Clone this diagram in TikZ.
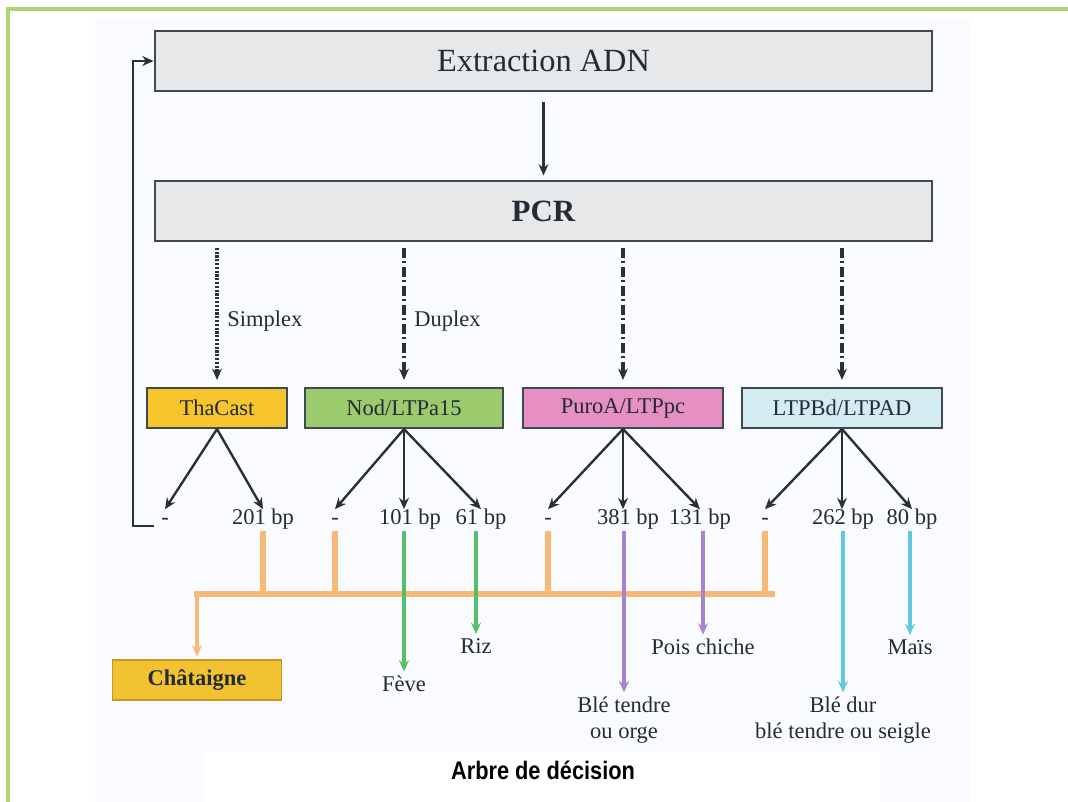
\documentclass[tikz,border=0pt]{standalone}
\usepackage{fontspec}
\setmainfont{Liberation Serif}
\newfontfamily\capfont[FakeStretch=0.86]{Liberation Sans}
\usetikzlibrary{arrows.meta}

\definecolor{framegreen}{HTML}{A9D46F}
\definecolor{bgtint}{HTML}{FAFBFE}
\definecolor{boxgray}{HTML}{E7E8EA}
\definecolor{edge}{HTML}{3F4953}
\definecolor{arr}{HTML}{27303B}
\definecolor{txt}{HTML}{222B36}
\definecolor{thafill}{HTML}{F6C42C}
\definecolor{nodfill}{HTML}{9CCB6E}
\definecolor{purofill}{HTML}{E58FC2}
\definecolor{ltpfill}{HTML}{D3ECF1}
\definecolor{chatfill}{HTML}{F2C230}
\definecolor{orangebus}{HTML}{F7B977}
\definecolor{grnarrow}{HTML}{55C06A}
\definecolor{purparrow}{HTML}{A682CF}
\definecolor{cyanarrow}{HTML}{63C7E0}

\begin{document}
\begin{tikzpicture}[x=0.025cm,y=-0.025cm,>={Stealth[length=8pt,width=7pt]},
  bigbox/.style={draw=edge,line width=1.8pt,fill=boxgray,minimum width=19.43cm,
    minimum height=1.5cm,text=txt,font=\fontsize{23}{26}\selectfont},
  primer/.style={draw=edge,line width=1.5pt,minimum height=1cm,inner sep=0pt,
    text=txt,font=\fontsize{16}{18}\selectfont},
  frag/.style={text=txt,inner sep=1pt,text height=10pt,text depth=3pt,
    font=\fontsize{16}{18}\selectfont},
  result/.style={text=txt,inner sep=1pt,align=center,font=\fontsize{16}{18.5}\selectfont},
  blk/.style={->,draw=arr,line width=1.7pt},
  simplexline/.style={->,draw=arr,line width=2.6pt,dash pattern=on 1.5pt off 1.2pt},
  multiline/.style={->,draw=arr,line width=2.6pt,dash pattern=on 7pt off 2.5pt on 1.5pt off 2.5pt},
  busline/.style={draw=orangebus,line width=3.8pt},
  colarrow/.style={->,line width=2.4pt,shorten >=2pt}]
\useasboundingbox (0,0) rectangle (1068,802);
\fill[bgtint] (95,18) rectangle (970,802);
\fill[white] (205,752) rectangle (880,802);
\draw[framegreen,line width=2.6pt] (1068,9) -- (8,9) -- (8,802);

% main steps
\node[bigbox] (extr) at (543.5,61) {Extraction ADN};
\node[bigbox,font=\bfseries\fontsize{22}{26}\selectfont] (pcr) at (543.5,211) {PCR};
\draw[blk,shorten <=7pt,shorten >=3pt] (extr.south) -- (pcr.north);

% primer sets
\node[primer,fill=thafill,minimum width=3.5cm] (tha) at (217,408) {ThaCast};
\node[primer,fill=nodfill,minimum width=4.95cm] (nod) at (404,408) {Nod/LTPa15};
\node[primer,fill=purofill,minimum width=5cm] (puro) at (623,408) {PuroA/LTPpc};
\node[primer,fill=ltpfill,minimum width=5cm] (ltp) at (842,408) {LTPBd/LTPAD};

\draw[simplexline,shorten <=4pt,shorten >=5pt] (pcr.south -| tha.north) -- (tha.north)
  node[pos=0.55,right=5pt,frag] {Simplex};
\draw[multiline,shorten <=4pt,shorten >=5pt] (pcr.south -| nod.north) -- (nod.north)
  node[pos=0.55,right=5pt,frag] {Duplex};
\draw[multiline,shorten <=4pt,shorten >=5pt] (pcr.south -| puro.north) -- (puro.north);
\draw[multiline,shorten <=4pt,shorten >=5pt] (pcr.south -| ltp.north) -- (ltp.north);

% fragments
\node[frag] (t0) at (165,520) {-};
\node[frag] (t1) at (263,520) {201 bp};
\node[frag] (n0) at (335,520) {-};
\node[frag] (n1) at (410,520) {101 bp};
\node[frag] (n2) at (481,520) {61 bp};
\node[frag] (p0) at (548,520) {-};
\node[frag] (p1) at (628,520) {381 bp};
\node[frag] (p2) at (700,520) {131 bp};
\node[frag] (l0) at (765,520) {-};
\node[frag] (l1) at (843,520) {262 bp};
\node[frag] (l2) at (912,520) {80 bp};

\draw[blk] (tha.south) -- (t0.north);
\draw[blk] (tha.south) -- (t1.north);
\draw[blk] (nod.south) -- (n0.north);
\draw[blk] (nod.south) -- (nod.south |- n1.north);
\draw[blk] (nod.south) -- (n2.north);
\draw[blk] (puro.south) -- (p0.north);
\draw[blk] (puro.south) -- (puro.south |- p1.north);
\draw[blk] (puro.south) -- (p2.north);
\draw[blk] (ltp.south) -- (l0.north);
\draw[blk] (ltp.south) -- (ltp.south |- l1.north);
\draw[blk] (ltp.south) -- (l2.north);

% no band: back to extraction
\coordinate (fb) at (133,526);
\draw[blk,shorten <=4pt] (t0.west |- fb) -- (fb) |- (extr.west);

% species
\node[primer,fill=chatfill,draw=chatfill!80!black,line width=0.8pt,minimum width=4.225cm,
  font=\bfseries\fontsize{16}{18}\selectfont] (chat) at (197,680) {Châtaigne};
\node[result] (feve) at (404,684) {Fève};
\node[result] (riz) at (476,646) {Riz};
\node[result] (ble1) at (624,720) {Blé tendre\\ou orge};
\node[result] (pois) at (703,647) {Pois chiche};
\node[result] (ble2) at (843,720) {Blé dur\\blé tendre ou seigle};
\node[result] (mais) at (910,647) {Maïs};

\coordinate (busL) at (197,594);
\coordinate (busR) at (775,594);
\foreach \f in {t1,n0,p0,l0}
  \draw[busline] (\f.south) -- (\f.south |- busL);
\draw[busline] ([xshift=-1.9pt]busL) -- (busR);
\draw[draw=orangebus,line width=2.8pt,->,shorten >=2pt] (busL) -- (chat.north);

\draw[colarrow,grnarrow] (feve.north |- n1.south) -- (feve.north);
\draw[colarrow,grnarrow] (riz.north |- n2.south) -- (riz.north);
\draw[colarrow,purparrow] (ble1.north |- p1.south) -- (ble1.north);
\draw[colarrow,purparrow] (pois.north |- p2.south) -- (pois.north);
\draw[colarrow,cyanarrow] (ble2.north |- l1.south) -- (ble2.north);
\draw[colarrow,cyanarrow] (mais.north |- l2.south) -- (mais.north);

\node[font=\capfont\bfseries\fontsize{18}{20}\selectfont] (cap) at (543,770) {Arbre de décision};
\end{tikzpicture}
\end{document}
